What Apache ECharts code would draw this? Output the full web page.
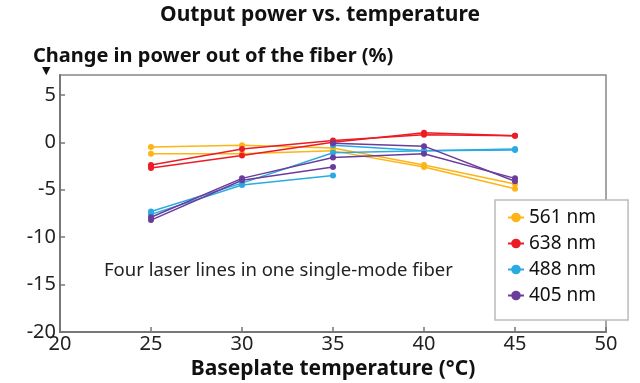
<!DOCTYPE html>
<html>
<head>
<meta charset="utf-8">
<script src="https://cdn.jsdelivr.net/npm/echarts@6/dist/echarts.min.js"></script>
<style>
html,body{margin:0;padding:0;background:#fff;}
#chart{width:640px;height:383px;}
</style>
</head>
<body>
<div id="chart"></div>
<script>
// Baseplate temperatures (°C)
const temps = [25, 30, 35, 40, 45];
const tempsShort = [25, 30, 35];
const tempsLate = [35, 40, 45];

// Change in power out of the fiber (%)
const y561a = [-0.5, -0.3, -0.6, -2.4, -4.4];
const y561b = [-1.2, -1.2, -0.9, -2.6, -4.9];
const y638a = [-2.4, -0.7, 0.2, 0.8, 0.7];
const y638b = [-2.7, -1.4, 0.0, 1.0, 0.7];
const y488a = [-7.3, -4.3, -1.1, -0.9, -0.7];
const y488b = [-7.6, -4.5, -3.5];
const y488c = [-0.3, -0.9, -0.8];
const y405a = [-7.9, -3.8, -1.6, -1.2, -3.8];
const y405b = [-8.2, -4.0, -2.6];
const y405c = [-0.1, -0.4, -4.1];

const legendNames = ['561 nm', '638 nm', '488 nm', '405 nm'];
const xTicks = [20, 25, 30, 35, 40, 45, 50];
const yTicks = [-20, -15, -10, -5, 0, 5];

const colors = {'561 nm': '#FDB515', '638 nm': '#EC1C24', '488 nm': '#29ABE2', '405 nm': '#6A3C9C'};

function pairs(xs, ys) { return xs.map((x, i) => [x, ys[i]]); }

const runs = [
  ['561 nm', temps, y561a], ['561 nm', temps, y561b],
  ['638 nm', temps, y638a], ['638 nm', temps, y638b],
  ['488 nm', temps, y488a], ['488 nm', tempsShort, y488b], ['488 nm', tempsLate, y488c],
  ['405 nm', temps, y405a], ['405 nm', tempsShort, y405b], ['405 nm', tempsLate, y405c]
];

const series = runs.map(([name, xs, ys]) => ({
  name: name,
  type: 'line',
  data: pairs(xs, ys),
  symbol: 'circle',
  symbolSize: 6,
  color: colors[name],
  lineStyle: {width: 1.5, color: colors[name]},
  itemStyle: {color: colors[name]},
  animation: false
}));

const chart = echarts.init(document.getElementById('chart'), null, {renderer: 'canvas'});
const font = 'Noto Sans';
chart.setOption({
  animation: false,
  title: [
    {text: 'Output power vs. temperature', left: 'center', top: 0,
     textStyle: {fontFamily: font, fontWeight: 'bold', fontSize: 21, color: '#111'}},
    {text: 'Change in power out of the fiber (%)', left: 28, top: 41,
     textStyle: {fontFamily: font, fontWeight: 'bold', fontSize: 20, color: '#111'}}
  ],
  grid: {left: 60, right: 34, top: 75, bottom: 51, show: true, borderColor: '#888', borderWidth: 1.5,
         backgroundColor: 'transparent', containLabel: false, outerBoundsMode: 'none'},
  legend: {
    data: legendNames,
    orient: 'vertical',
    left: 495, top: 200,
    padding: [8, 32, 15, 12],
    itemWidth: 16, itemHeight: 12, itemGap: 7,
    backgroundColor: '#fff',
    borderColor: '#bbb', borderWidth: 1.5,
    textStyle: {fontFamily: font, fontSize: 19, color: '#111'}
  },
  xAxis: {
    type: 'value', min: xTicks[0], max: xTicks[xTicks.length - 1], interval: 5,
    name: 'Baseplate temperature (°C)', nameLocation: 'middle', nameGap: 26,
    nameTextStyle: {fontFamily: font, fontWeight: 'bold', fontSize: 21, color: '#111'},
    axisLine: {onZero: false, lineStyle: {color: '#777', width: 2}},
    axisTick: {inside: true, length: 5, lineStyle: {color: '#777', width: 1.5}},
    axisLabel: {fontFamily: font, fontSize: 20, color: '#222', margin: 2},
    splitLine: {show: false}
  },
  yAxis: {
    type: 'value', min: yTicks[0], max: 7.1, interval: 5,
    axisLine: {show: true, onZero: false, lineStyle: {color: '#777', width: 2}},
    axisTick: {show: true, inside: true, length: 5, lineStyle: {color: '#777', width: 1.5}},
    axisLabel: {fontFamily: font, fontSize: 20, color: '#222', margin: 4, showMaxLabel: false},
    splitLine: {show: false}
  },
  graphic: [
    {type: 'text', left: 42, top: 66, style: {text: '▼', fontFamily: 'DejaVu Sans', fontSize: 11, fill: '#111'}},
    {type: 'text', left: 104, top: 261, style: {text: 'Four laser lines in one single-mode fiber', fontFamily: font, fontSize: 18.5, fill: '#222'}}
  ],
  series: series
});
</script>
</body>
</html>
